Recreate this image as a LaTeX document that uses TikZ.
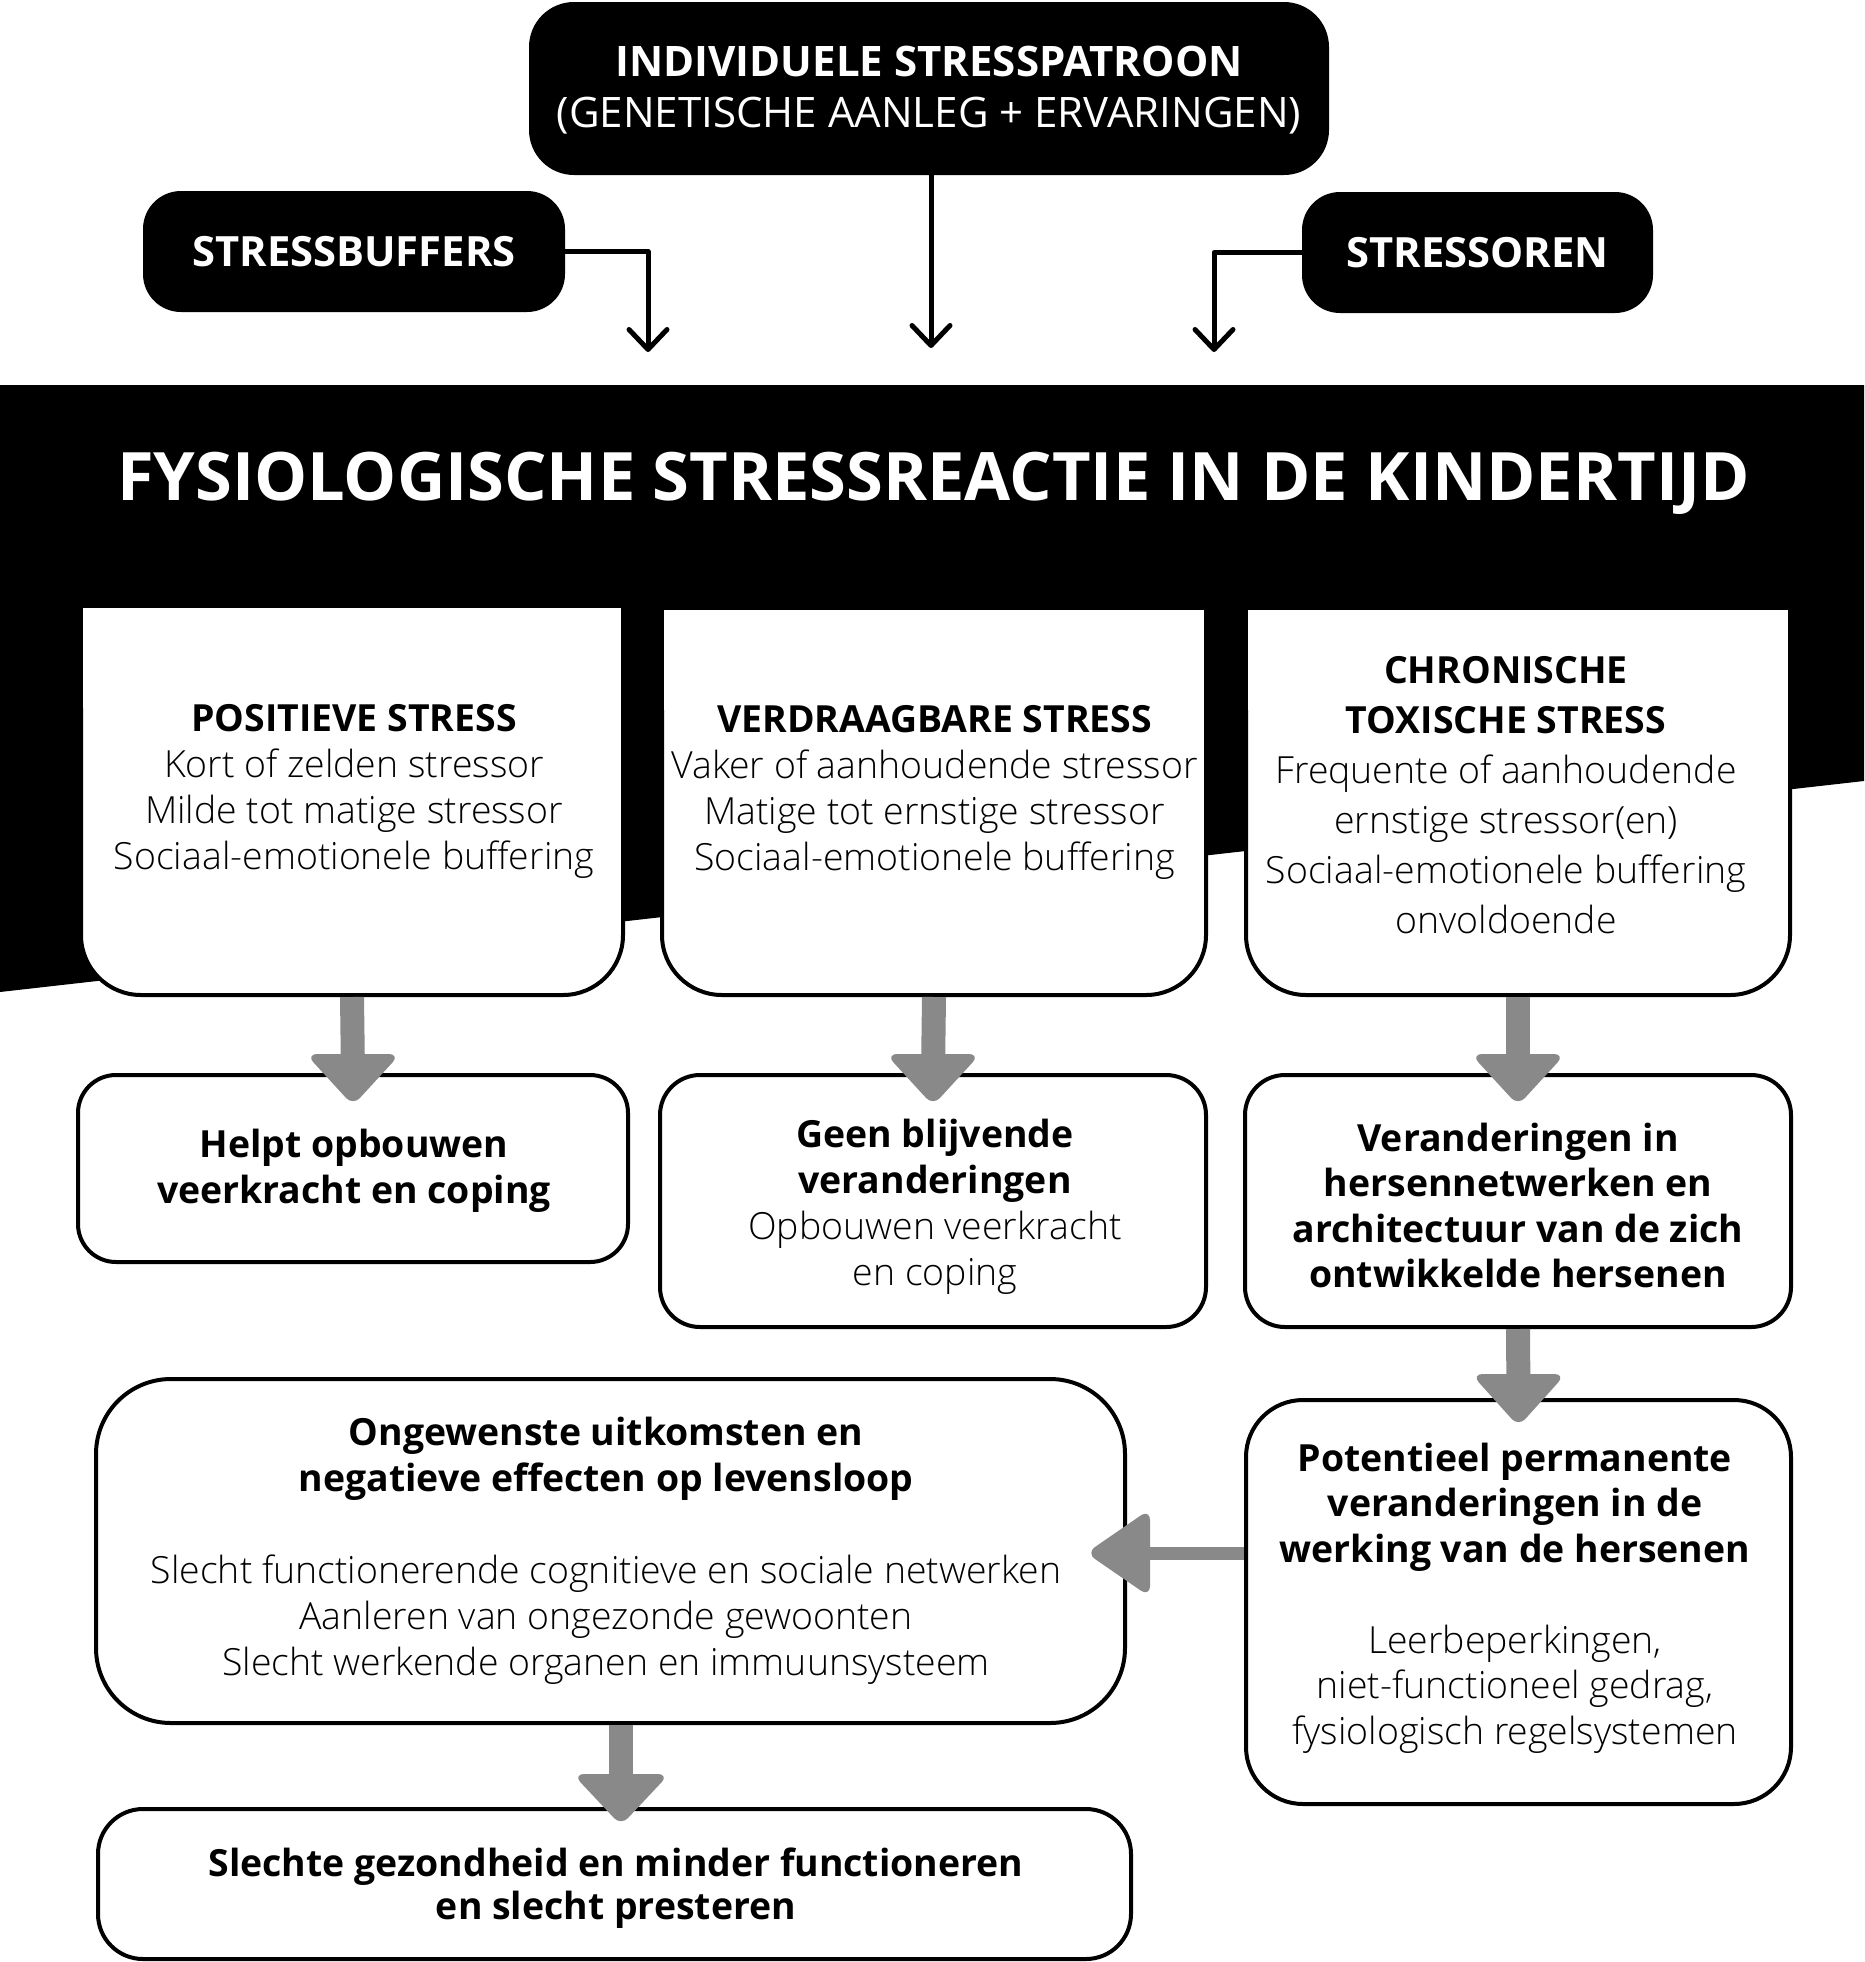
\documentclass[tikz,border=0pt]{standalone}
\usepackage{fontspec}
\setmainfont{Open Sans}
\IfFontExistsTF{Open Sans Light}{\newfontfamily\lightfont{Open Sans Light}}{\newfontfamily\lightfont{Open Sans}}
\usetikzlibrary{calc,arrows.meta}
\definecolor{agray}{RGB}{137,137,137}
\newcommand\B[1]{{\normalfont\bfseries #1}}
\newcommand\bodysize{\fontsize{37.4}{46}\selectfont}
\begin{document}
\begin{tikzpicture}[x=1pt,y=-1pt,
  box/.style={draw=black, line width=4pt, fill=white, inner sep=0pt},
  blkbox/.style={fill=black, inner sep=0pt},
  txt/.style={align=center, inner sep=0pt, anchor=north, text=black},
  gshaft/.style={draw=agray, line width=24pt},
  ghead/.style={fill=agray, draw=agray, line width=2pt, rounded corners=9pt, line join=round},
  blkarrow/.style={draw=black, line width=5pt, line cap=round, line join=round, -{Straight Barb[length=20pt,width=38pt,round]}},
]
\useasboundingbox (0,0) rectangle (1864,1962);
\fill[white] (0,0) rectangle (1864,1962);

% black banner
\fill[black] (0,385) -- (1864,385) -- (1864,781) -- (0,992) -- cycle;

% top boxes
\node[blkbox, rounded corners=45pt, minimum width=800pt, minimum height=173pt] (top) at (929,88.5) {};
\node[txt, text=white, font=\fontsize{42}{51}\selectfont] (toptxt) at (929,40.3)
  {\strut\textbf{INDIVIDUELE STRESSPATROON}\\\strut(GENETISCHE AANLEG + ERVARINGEN)};
\node[blkbox, rounded corners=38pt, minimum width=422pt, minimum height=121pt, text=white,
  font=\fontsize{41.7}{47}\selectfont\bfseries] (sbuf) at (354,251.5) {STRESSBUFFERS};
\node[blkbox, rounded corners=38pt, minimum width=351pt, minimum height=121pt, text=white,
  font=\fontsize{41.7}{47}\selectfont\bfseries] (stro) at (1477.5,252.5) {STRESSOREN};

\coordinate (t1) at (648,352);
\coordinate (t2) at (931,348);
\coordinate (t3) at (1214,352);
\draw[blkarrow] (sbuf.east) -| (t1);
\draw[blkarrow] (top.south -| t2) -- (t2);
\draw[blkarrow] (stro.west) -| (t3);

% title
\node[anchor=base, inner sep=0pt, text=white, font=\fontsize{66.8}{80}\selectfont\bfseries] (title)
  at (933.5,500) {FYSIOLOGISCHE STRESSREACTIE IN DE KINDERTIJD};

% upper three boxes
\node[box, rounded corners=60pt, minimum width=542pt, minimum height=385pt] (b1) at (352,802.5) {};
\node[box, rounded corners=60pt, minimum width=544pt, minimum height=383pt] (b2) at (934,803.5) {};
\node[box, rounded corners=60pt, minimum width=544pt, minimum height=383pt] (b3) at (1518,803.5) {};
\foreach \b in {b1,b2,b3} \fill[white] ($(\b.north west)+(4,0)$) rectangle ($(\b.north east)+(-4,100)$);

\node[txt, font=\lightfont\bodysize] (b1t) at (354,698.8)
  {\strut\B{POSITIEVE STRESS}\\\strut Kort of zelden stressor\\\strut Milde tot matige stressor\\\strut Sociaal-emotionele buffering};
\node[txt, font=\lightfont\bodysize] (b2t) at (934.5,699.8)
  {\strut\B{VERDRAAGBARE STRESS}\\\strut Vaker of aanhoudende stressor\\\strut Matige tot ernstige stressor\\\strut Sociaal-emotionele buffering};
\node[txt, font=\lightfont\fontsize{37.4}{50}\selectfont] (b3t) at (1506,648)
  {\strut\B{CHRONISCHE}\\\strut\B{TOXISCHE STRESS}\\\strut Frequente of aanhoudende\\\strut ernstige stressor(en)\\\strut Sociaal-emotionele buffering\\\strut onvoldoende};

% second row
\node[box, rounded corners=38pt, minimum width=550pt, minimum height=187pt] (bA) at (353,1168.5) {};
\node[box, rounded corners=40pt, minimum width=546pt, minimum height=252pt] (bB) at (933,1201) {};
\node[box, rounded corners=40pt, minimum width=546pt, minimum height=252pt] (bC) at (1518,1201) {};
\node[txt, font=\bfseries\bodysize] (bAt) at (354,1124.8)
  {\strut Helpt opbouwen\\\strut veerkracht en coping};
\node[txt, font=\lightfont\bodysize] (bBt) at (935,1114.8)
  {\strut\B{Geen blijvende}\\\strut\B{veranderingen}\\\strut Opbouwen veerkracht\\\strut en coping};
\node[txt, font=\bfseries\fontsize{37.4}{45.5}\selectfont] (bCt) at (1518,1119.2)
  {\strut Veranderingen in\\\strut hersennetwerken en\\\strut architectuur van de zich\\\strut ontwikkelde hersenen};

% lower boxes
\node[box, rounded corners=57pt, minimum width=545pt, minimum height=404pt] (bD) at (1518.5,1602) {};
\node[box, rounded corners=75pt, minimum width=1029pt, minimum height=344pt] (bE) at (610.5,1551) {};
\node[box, rounded corners=45pt, minimum width=1033pt, minimum height=150pt] (bF) at (614.5,1884) {};
\node[txt, font=\lightfont\fontsize{37.4}{45.5}\selectfont] (bDt) at (1515,1439.2)
  {\strut\B{Potentieel permanente}\\\strut\B{veranderingen in de}\\\strut\B{werking van de hersenen}\\\strut\\\strut Leerbeperkingen,\\\strut niet-functioneel gedrag,\\\strut fysiologisch regelsystemen};
\node[txt, font=\lightfont\bodysize] (bEt) at (606,1412.8)
  {\strut\B{Ongewenste uitkomsten en}\\\strut\B{negatieve effecten op levensloop}\\\strut\\\strut Slecht functionerende cognitieve en sociale netwerken\\\strut Aanleren van ongezonde gewoonten\\\strut Slecht werkende organen en immuunsysteem};
\node[txt, font=\bfseries\fontsize{37.4}{43}\selectfont] (bFt) at (616,1845.9)
  {\strut Slechte gezondheid en minder functioneren\\\strut en slecht presteren};

% gray arrows
\draw[gshaft] (b1.south) -- (bA.north);
\fill[ghead] ($(bA.north)+(-45,-18)$) -- ($(bA.north)+(45,-18)$) -- ($(bA.north)+(0,31)$) -- cycle;
\draw[gshaft] (b2.south) -- (bB.north);
\fill[ghead] ($(bB.north)+(-45,-18)$) -- ($(bB.north)+(45,-18)$) -- ($(bB.north)+(0,31)$) -- cycle;
\draw[gshaft] (b3.south) -- (bC.north);
\fill[ghead] ($(bC.north)+(-45,-18)$) -- ($(bC.north)+(45,-18)$) -- ($(bC.north)+(0,31)$) -- cycle;
\draw[gshaft] (bC.south) -- (bD.north);
\fill[ghead] ($(bD.north)+(-45,-23)$) -- ($(bD.north)+(45,-23)$) -- ($(bD.north)+(0,27)$) -- cycle;
\coordinate (ef) at (621,0);
\draw[gshaft] (ef |- bE.south) -- (ef |- bF.north);
\fill[ghead] ($(ef |- bF.north)+(-46,-32)$) -- ($(ef |- bF.north)+(46,-32)$) -- ($(ef |- bF.north)+(0,17)$) -- cycle;
\coordinate (hl) at (0,1553);
\draw[gshaft, line width=13pt] (bD.west |- hl) -- (bE.east |- hl);
\fill[ghead] ($(bE.east |- hl)+(22,-42)$) -- ($(bE.east |- hl)+(22,42)$) -- ($(bE.east |- hl)+(-39,0)$) -- cycle;
\end{tikzpicture}
\end{document}
